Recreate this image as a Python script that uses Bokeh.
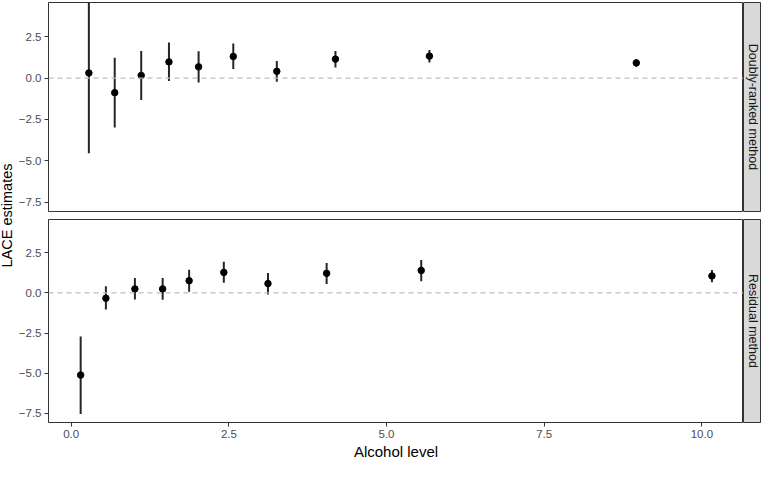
import math
from bokeh.plotting import figure
from bokeh.layouts import row, column
from bokeh.models import (Range1d, ColumnDataSource, Span, Label, FixedTicker,
                          CustomJSTickFormatter)
from bokeh.embed import file_html
from bokeh.resources import INLINE

# ---------------- data ----------------
panel_labels = ["Doubly-ranked method", "Residual method"]

dr_x = [0.28, 0.69, 1.11, 1.55, 2.02, 2.57, 3.26, 4.19, 5.68, 8.96]
dr_est = [0.31, -0.88, 0.16, 0.98, 0.68, 1.31, 0.41, 1.15, 1.33, 0.92]
dr_lo = [-4.55, -2.99, -1.33, -0.18, -0.27, 0.55, -0.22, 0.64, 0.94, 0.69]
dr_hi = [5.17, 1.23, 1.64, 2.15, 1.62, 2.09, 1.04, 1.64, 1.70, 1.15]

res_x = [0.15, 0.55, 1.01, 1.45, 1.87, 2.42, 3.12, 4.05, 5.55, 10.16]
res_est = [-5.12, -0.33, 0.25, 0.25, 0.76, 1.28, 0.58, 1.22, 1.40, 1.06]
res_lo = [-7.54, -1.03, -0.41, -0.43, 0.07, 0.64, -0.10, 0.56, 0.73, 0.66]
res_hi = [-2.72, 0.41, 0.93, 0.93, 1.45, 1.94, 1.24, 1.86, 2.05, 1.43]

y_ticks = [-7.5, -5.0, -2.5, 0.0, 2.5]
x_ticks = [0.0, 2.5, 5.0, 7.5, 10.0]

x_label = "Alcohol level"
y_label = "LACE estimates"

# ---------------- styling ----------------
FONT = "Liberation Sans"
BORDER = "#333333"
TICK_TXT = "#4D4D4D"

xr = Range1d(-0.36, 10.66)
yr = Range1d(-8.075, 4.575)

fmt_code = "return tick.toFixed(1).replace('-', '\u2212');"

LEFT = 32
W_MAIN = 728
STRIP_W = 18
TOP_H = 215
BOT_H = 247


def make_panel(xs, est, lo, hi, bottom):
    h = BOT_H if bottom else TOP_H
    mt = 4 if bottom else 2
    mb = 34 if bottom else 4
    p = figure(width=W_MAIN, height=h, x_range=xr, y_range=yr,
               output_backend="svg", toolbar_location=None,
               min_border_left=LEFT, min_border_right=0,
               min_border_top=mt, min_border_bottom=mb,
               x_axis_location="below" if bottom else None)
    p.grid.visible = False
    p.outline_line_color = BORDER
    p.outline_line_width = 1
    p.background_fill_color = "white"
    p.border_fill_color = "white"

    p.add_layout(Span(location=0, dimension="width", line_color="#BEBEBE",
                      line_dash="5 4", line_width=1.2))

    src = ColumnDataSource(dict(x=xs, est=est, lo=lo, hi=hi))
    p.segment(x0="x", y0="lo", x1="x", y1="hi", source=src,
              line_color="#262626", line_width=2)
    p.scatter(x="x", y="est", source=src, size=6.5, color="black")

    yax = p.yaxis[0]
    yax.ticker = FixedTicker(ticks=y_ticks)
    yax.formatter = CustomJSTickFormatter(code=fmt_code)
    yax.axis_line_color = None
    yax.major_tick_line_color = BORDER
    yax.major_tick_out = 4
    yax.major_tick_in = 0
    yax.minor_tick_line_color = None
    yax.major_label_text_font = FONT
    yax.major_label_text_font_size = "11.5px"
    yax.major_label_text_color = TICK_TXT
    yax.major_label_standoff = 3

    if bottom:
        xax = p.xaxis[0]
        xax.ticker = FixedTicker(ticks=x_ticks)
        xax.formatter = CustomJSTickFormatter(code=fmt_code)
        xax.axis_line_color = None
        xax.major_tick_line_color = BORDER
        xax.major_tick_out = 4
        xax.major_tick_in = 0
        xax.minor_tick_line_color = None
        xax.major_label_text_font = FONT
        xax.major_label_text_font_size = "11.5px"
        xax.major_label_text_color = TICK_TXT
        xax.major_label_standoff = 3
        xax.axis_label = x_label
        xax.axis_label_text_font = FONT
        xax.axis_label_text_font_size = "15px"
        xax.axis_label_text_font_style = "normal"
        xax.axis_label_text_color = "black"
        xax.axis_label_standoff = 2
    return p


def make_strip(text, bottom):
    h = BOT_H if bottom else TOP_H
    mt = 4 if bottom else 2
    mb = 34 if bottom else 4
    s = figure(width=STRIP_W, height=h, x_range=Range1d(0, 1), y_range=Range1d(0, 1),
               output_backend="svg", toolbar_location=None,
               x_axis_location=None, y_axis_location=None,
               min_border_left=0, min_border_right=0,
               min_border_top=mt, min_border_bottom=mb)
    s.grid.visible = False
    s.background_fill_color = "#D9D9D9"
    s.border_fill_color = "white"
    s.outline_line_color = BORDER
    s.outline_line_width = 1
    s.add_layout(Label(x=0.5, y=0.5, text=text, angle=-math.pi / 2,
                       text_align="center", text_baseline="middle",
                       text_font=FONT, text_font_size="12.5px",
                       text_color="#1A1A1A"))
    return s


top = make_panel(dr_x, dr_est, dr_lo, dr_hi, bottom=False)
bot = make_panel(res_x, res_est, res_lo, res_hi, bottom=True)
top_strip = make_strip(panel_labels[0], bottom=False)
bot_strip = make_strip(panel_labels[1], bottom=True)

TOTAL_H = TOP_H + BOT_H
lab = figure(width=15, height=TOTAL_H, x_range=Range1d(0, 1), y_range=Range1d(0, TOTAL_H),
             output_backend="svg", toolbar_location=None,
             x_axis_location=None, y_axis_location=None, min_border=0)
lab.grid.visible = False
lab.outline_line_color = None
# centre of the two panel frames (top 2 .. bottom 428)
lab.add_layout(Label(x=0.45, y=TOTAL_H - 215, text=y_label, angle=math.pi / 2,
                     text_align="center", text_baseline="middle",
                     text_font=FONT, text_font_size="14.5px", text_color="black"))

layout = row(lab, column(row(top, top_strip), row(bot, bot_strip)))

open("out.html", "w").write(file_html(layout, INLINE))
